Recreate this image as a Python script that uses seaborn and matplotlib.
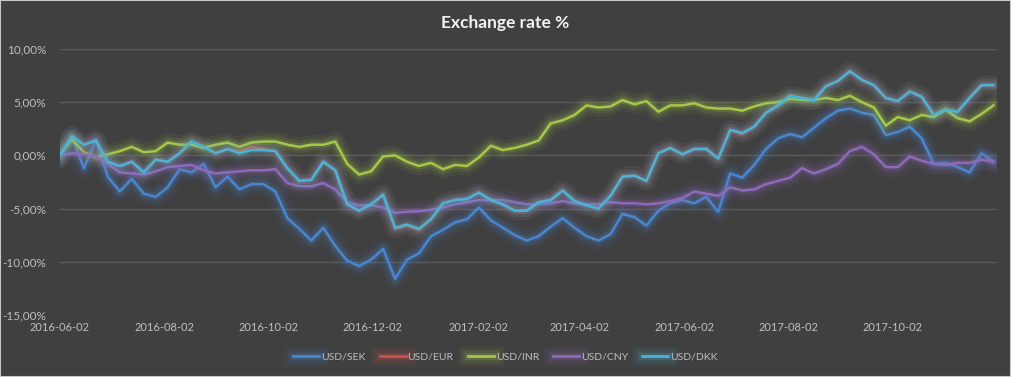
import numpy as np
import pandas as pd
import matplotlib
matplotlib.use("Agg")
import matplotlib.pyplot as plt
import matplotlib.dates as mdates
import matplotlib.patheffects as pe
from matplotlib.ticker import FuncFormatter
import seaborn as sns

# weekly observations, change vs 2016-06-02 in %
dates = pd.date_range("2016-06-02", periods=79, freq="7D")

usd_sek = [0.0, 1.8, -1.2, 1.4, -2.0, -3.4, -2.2, -3.6, -3.9, -3.0,
           -1.3, -1.6, -0.8, -3.0, -2.0, -3.2, -2.7, -2.7, -3.4, -5.9,
           -6.9, -8.0, -6.8, -8.5, -9.9, -10.4, -9.8, -8.8, -11.6, -9.8,
           -9.2, -7.6, -7.0, -6.3, -6.0, -4.9, -6.1, -6.8, -7.5, -8.0,
           -7.6, -6.7, -5.9, -6.8, -7.6, -8.0, -7.4, -5.5, -5.8, -6.6,
           -5.2, -4.5, -4.2, -4.5, -3.9, -5.3, -1.7, -2.1, -0.9, 0.6,
           1.6, 2.0, 1.7, 2.6, 3.5, 4.2, 4.4, 4.0, 3.8, 1.9,
           2.2, 2.7, 1.6, -0.8, -0.7, -1.1, -1.6, 0.2, -0.6]

usd_eur = [0.0, 1.8, 1.0, 1.4, -0.6, -1.0, -0.6, -1.6, -0.4, -0.6,
           0.2, 1.3, 0.8, 0.2, 0.6, 0.4, 0.8, 0.6, 0.4, -1.2,
           -2.4, -2.3, -0.6, -1.4, -4.6, -5.2, -4.6, -3.7, -6.9, -6.6,
           -7.0, -6.0, -4.5, -4.2, -4.1, -3.5, -4.2, -4.6, -5.2, -5.2,
           -4.4, -4.2, -3.3, -4.3, -4.7, -5.0, -3.8, -2.0, -1.9, -2.4,
           0.2, 0.7, 0.1, 0.6, 0.6, -0.3, 2.4, 2.0, 2.7, 4.0,
           4.7, 5.6, 5.4, 5.2, 6.5, 7.0, 7.9, 7.1, 6.6, 5.4,
           5.1, 6.0, 5.5, 3.8, 4.3, 4.1, 5.4, 6.6, 6.6]

usd_inr = [0.1, 1.5, 0.3, -0.2, 0.1, 0.4, 0.8, 0.3, 0.4, 1.2,
           1.0, 1.0, 0.7, 1.0, 1.2, 0.8, 1.2, 1.3, 1.3, 1.0,
           0.8, 1.0, 1.0, 1.3, -0.8, -1.8, -1.5, -0.1, 0.0, -0.6,
           -1.0, -0.7, -1.3, -0.9, -1.0, -0.2, 0.9, 0.5, 0.7, 1.0,
           1.4, 3.0, 3.3, 3.8, 4.7, 4.5, 4.6, 5.2, 4.8, 5.1,
           4.1, 4.7, 4.7, 4.9, 4.5, 4.4, 4.4, 4.2, 4.6, 4.9,
           5.0, 5.3, 5.2, 5.2, 5.4, 5.2, 5.6, 5.0, 4.5, 2.8,
           3.6, 3.3, 3.8, 3.6, 4.3, 3.5, 3.2, 3.9, 4.7]

usd_cny = [0.0, 0.2, 0.1, -0.1, -0.8, -1.6, -1.7, -1.8, -1.5, -1.1,
           -1.0, -0.9, -1.4, -1.7, -1.6, -1.5, -1.4, -1.4, -1.3, -2.6,
           -2.9, -2.9, -2.6, -3.2, -4.4, -4.7, -4.7, -4.9, -5.4, -5.3,
           -5.25, -5.1, -4.9, -4.6, -4.4, -4.2, -4.2, -4.2, -4.4, -4.6,
           -4.6, -4.5, -4.3, -4.5, -4.6, -4.6, -4.4, -4.5, -4.5, -4.6,
           -4.5, -4.3, -4.0, -3.4, -3.6, -3.8, -3.0, -3.3, -3.2, -2.7,
           -2.4, -2.1, -1.2, -1.7, -1.3, -0.8, 0.4, 0.8, 0.1, -1.1,
           -1.1, -0.1, -0.5, -0.8, -0.9, -0.7, -0.7, -0.4, -0.6]

usd_dkk = [0.0, 1.8, 1.0, 1.4, -0.6, -1.0, -0.6, -1.6, -0.4, -0.6,
           0.2, 1.3, 0.8, 0.2, 0.6, 0.2, 0.5, 0.5, 0.4, -1.2,
           -2.4, -2.3, -0.6, -1.4, -4.6, -5.2, -4.6, -3.7, -6.8, -6.5,
           -6.9, -6.0, -4.5, -4.2, -4.1, -3.5, -4.2, -4.6, -5.2, -5.2,
           -4.4, -4.2, -3.3, -4.3, -4.7, -5.0, -3.8, -2.0, -1.9, -2.4,
           0.2, 0.7, 0.1, 0.6, 0.6, -0.3, 2.4, 2.1, 2.7, 4.0,
           4.7, 5.6, 5.4, 5.2, 6.5, 7.0, 7.9, 7.1, 6.6, 5.4,
           5.1, 6.0, 5.5, 3.8, 4.3, 4.1, 5.4, 6.6, 6.6]

series_names = ["USD/SEK", "USD/EUR", "USD/INR", "USD/CNY", "USD/DKK"]
colors = ["#4A86CF", "#D0504D", "#A5C84A", "#8E6AB8", "#4BB4D4"]

tick_labels = ["2016-06-02", "2016-08-02", "2016-10-02", "2016-12-02", "2017-02-02",
               "2017-04-02", "2017-06-02", "2017-08-02", "2017-10-02"]

df = pd.DataFrame({"date": dates, "USD/SEK": usd_sek, "USD/EUR": usd_eur,
                   "USD/INR": usd_inr, "USD/CNY": usd_cny, "USD/DKK": usd_dkk})
long = df.melt(id_vars="date", var_name="pair", value_name="change")

bg = "#404040"
txt = "#BFBFBF"
plt.rcParams['font.family'] = ['Lato', 'DejaVu Sans']

fig = plt.figure(figsize=(10.11, 3.77), dpi=100, facecolor=bg)
ax = fig.add_axes([0.0593, 0.1645, 0.9268, 0.7056])
ax.set_facecolor(bg)

sns.lineplot(data=long, x="date", y="change", hue="pair", hue_order=series_names,
             palette=colors, linewidth=1.8, ax=ax)

# glow around every line
for line in ax.get_lines():
    c = line.get_color()
    line.set_path_effects([pe.Stroke(linewidth=14, foreground=c, alpha=0.07),
                           pe.Stroke(linewidth=9, foreground=c, alpha=0.11),
                           pe.Stroke(linewidth=5, foreground=c, alpha=0.18),
                           pe.Normal()])

ax.set_ylim(-15, 10)
ax.set_yticks([-15, -10, -5, 0, 5, 10])
ax.yaxis.set_major_formatter(FuncFormatter(lambda v, p: f"{v:.2f}%".replace(".", ",")))
ax.set_xlim(pd.Timestamp("2016-06-02"), pd.Timestamp("2017-12-02"))
ax.set_xticks(pd.to_datetime(tick_labels))
ax.xaxis.set_major_formatter(mdates.DateFormatter("%Y-%m-%d"))

ax.grid(axis="y", color="#5A5A5A", linewidth=1)
ax.grid(axis="x", visible=False)
ax.set_axisbelow(True)
for s in ax.spines.values():
    s.set_visible(False)
ax.tick_params(length=0, colors=txt, labelsize=8.5)
ax.tick_params(axis="x", labelsize=8, pad=5)
ax.tick_params(axis="y", pad=10)
ax.set_xlabel("")
ax.set_ylabel("")

fig.text(0.5, 0.94, "Exchange rate %", ha="center", va="center",
         fontsize=12.5, fontweight="bold", color="#F2F2F2")

handles, labels = ax.get_legend_handles_labels()
for h in handles:
    h.set_linewidth(2)
ax.legend(handles, labels, ncol=5, frameon=False, loc="center",
          bbox_to_anchor=(0.5, 0.053), bbox_transform=fig.transFigure,
          labelcolor=txt, fontsize=7.5, handlelength=2.5, handletextpad=0.2,
          columnspacing=1.35)

fig.patches.append(plt.Rectangle((0, 0), 1, 1, transform=fig.transFigure,
                                 fill=False, edgecolor="#C8C8C8", linewidth=1.5))

fig.savefig("out.png", dpi=100, facecolor=bg)
